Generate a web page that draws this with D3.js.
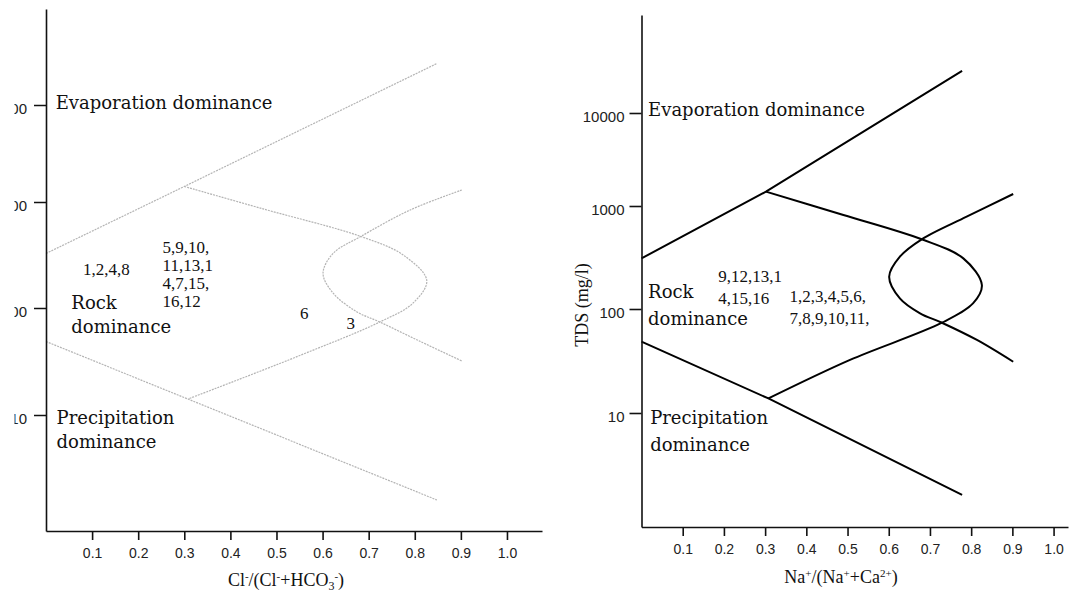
<!DOCTYPE html>
<html>
<head>
<meta charset="utf-8">
<script src="https://cdn.jsdelivr.net/npm/d3@7"></script>
<style>
  body { margin: 0; background: #fff; }
  svg { display: block; }
  .x-axis .tick text { font-family: "Liberation Sans", sans-serif; font-size: 14px; fill: #222; }
  .y-axis .tick text { font-family: "Liberation Sans", sans-serif; font-size: 15px; fill: #222; }
  .zone { font-family: "DejaVu Serif", serif; font-size: 18px; fill: #111; }
  .nums { font-family: "Liberation Serif", serif; font-size: 17px; fill: #111; }
  .title { font-family: "Liberation Serif", serif; font-size: 18px; fill: #111; }
</style>
</head>
<body>
<script>
// tick values shared by both panels
var xTicks = [0.1, 0.2, 0.3, 0.4, 0.5, 0.6, 0.7, 0.8, 0.9, 1.0];
var yTicks = [10, 100, 1000, 10000];

// left panel (Cl/(Cl+HCO3)) boundary lines, [ratio, TDS]
var leftEvapLine = [[0, 327], [0.300, 1445], [0.848, 26700]];
var leftPrecLine = [[0, 48.6], [0.308, 14.1], [0.848, 1.6]];
var leftOuterCurve = [[0.300, 1445], [0.471, 861], [0.683, 473], [0.775, 316], [0.826, 182],
                      [0.796, 111], [0.724, 74], [0.543, 34.9], [0.308, 14.1]];
var leftInnerCurve = [[0.902, 1330], [0.789, 837], [0.683, 473], [0.623, 328], [0.601, 212],
                      [0.623, 138], [0.674, 92.3], [0.724, 74], [0.811, 48.9], [0.902, 32]];

// right panel (Na/(Na+Ca)) boundary lines
var rightEvapLine = [[0, 310], [0.302, 1426], [0.778, 28300]];
var rightPrecLine = [[0, 48.5], [0.308, 13.8], [0.778, 1.63]];
var rightOuterCurve = [[0.302, 1426], [0.490, 818], [0.680, 475], [0.781, 310], [0.826, 171],
                       [0.805, 114], [0.729, 73.8], [0.506, 32.4], [0.308, 13.8]];
var rightInnerCurve = [[0.902, 1346], [0.789, 787], [0.680, 475], [0.627, 322], [0.601, 206],
                       [0.627, 127], [0.676, 91], [0.729, 73.8], [0.814, 50.4], [0.902, 31.1]];

// text annotations [x, TDS, lines]
var leftZones = [
  [0.021, 9200, ["Evaporation dominance"]],
  [0.055, 98, ["Rock", "dominance"]],
  [0.023, 8.24, ["Precipitation", "dominance"]]
];
var leftSamples = [
  [0.080, 207, ["1,2,4,8"]],
  [0.253, 332, ["5,9,10,", "11,13,1", "4,7,15,", "16,12"]],
  [0.551, 78.9, ["6"]],
  [0.652, 63.7, ["3"]]
];
var rightZones = [
  [0.016, 9290, ["Evaporation dominance"]],
  [0.016, 128, ["Rock", "dominance"]],
  [0.021, 7.84, ["Precipitation", "dominance"]]
];
var rightSamples = [
  [0.186, 183, ["9,12,13,1", "4,15,16"]],
  [0.359, 117, ["1,2,3,4,5,6,", "7,8,9,10,11,"]]
];

var svg = d3.select("body").append("svg")
    .attr("width", 1073)
    .attr("height", 594);

// the left figure is cropped just left of its tick labels
svg.append("clipPath").attr("id", "crop")
  .append("rect").attr("x", 14.5).attr("y", 0).attr("width", 1060).attr("height", 594);

// scanned figure: the decades are not evenly spaced, so use piecewise log scales
var xLeft = d3.scaleLinear().domain([0, 1.076]).range([46, 542]);
var yLeft = d3.scaleLog()
    .domain([0.82, 10, 100, 1000, 10000, 97000])
    .range([531, 415, 308, 202, 105, 9]);

var xRight = d3.scaleLinear().domain([0, 1.035]).range([641.5, 1068]);
var yRight = d3.scaleLog()
    .domain([0.8, 10, 100, 1000, 10000, 113000])
    .range([527, 413, 309, 206, 113, 15]);

function drawPanel(x, y, opts) {
  var g = svg.append("g");

  var line = d3.line()
      .x(function(d) { return x(d[0]); })
      .y(function(d) { return y(d[1]); });
  var curve = d3.line()
      .curve(d3.curveCatmullRom.alpha(0.5))
      .x(function(d) { return x(d[0]); })
      .y(function(d) { return y(d[1]); });

  // boundary lines
  [opts.evap, opts.prec].forEach(function(d) {
    g.append("path").datum(d)
        .attr("d", line)
        .attr("fill", "none")
        .attr("stroke", opts.color)
        .attr("stroke-width", opts.width)
        .attr("stroke-dasharray", opts.dash);
  });
  [opts.outer, opts.inner].forEach(function(d) {
    g.append("path").datum(d)
        .attr("d", curve)
        .attr("fill", "none")
        .attr("stroke", opts.color)
        .attr("stroke-width", opts.width)
        .attr("stroke-dasharray", opts.dash);
  });

  // axes
  var xAxis = g.append("g").attr("class", "x-axis")
      .attr("transform", "translate(0," + y.range()[0] + ")")
      .call(d3.axisBottom(x).tickValues(xTicks).tickSize(9).tickSizeOuter(0)
        .tickFormat(d3.format(".1f")).tickPadding(8));
  var yWrap = g.append("g");
  if (opts.cropLabels) yWrap.attr("clip-path", "url(#crop)");
  var yAxis = yWrap.append("g").attr("class", "y-axis")
      .attr("transform", "translate(" + x.range()[0] + ",0)")
      .call(d3.axisLeft(y).tickValues(yTicks).tickSize(12).tickSizeOuter(0)
        .tickFormat(d3.format("d")).tickPadding(opts.cropLabels ? 7 : 5));
  [xAxis, yAxis].forEach(function(a) {
    a.select(".domain").attr("stroke", "#111").attr("stroke-width", 1.6);
    a.selectAll(".tick line").attr("stroke", "#111").attr("stroke-width", 1.6);
  });
  yAxis.selectAll(".tick text").attr("dy", "0.55em");

  // annotations
  function annotate(list, cls, gap) {
    list.forEach(function(a) {
      var t = g.append("text").attr("class", cls)
          .attr("x", x(a[0])).attr("y", y(a[1]));
      a[2].forEach(function(s, i) {
        t.append("tspan").attr("x", x(a[0])).attr("dy", i ? gap : 0).text(s);
      });
    });
  }
  annotate(opts.zones, "zone", opts.zoneGap);
  annotate(opts.samples, "nums", opts.numGap);
  return g;
}

drawPanel(xLeft, yLeft, {
  evap: leftEvapLine, prec: leftPrecLine,
  outer: leftOuterCurve, inner: leftInnerCurve,
  color: "#b4b4b4", width: 1.2, dash: "2,1",
  zones: leftZones, samples: leftSamples, zoneGap: 24, numGap: 18,
  cropLabels: true
});

drawPanel(xRight, yRight, {
  evap: rightEvapLine, prec: rightPrecLine,
  outer: rightOuterCurve, inner: rightInnerCurve,
  color: "#000", width: 2, dash: null,
  zones: rightZones, samples: rightSamples, zoneGap: 27, numGap: 22,
  cropLabels: false
});

// axis titles
var t1 = svg.append("text").attr("class", "title")
    .attr("x", 286).attr("y", 586).attr("text-anchor", "middle");
t1.append("tspan").text("Cl");
t1.append("tspan").attr("dy", -6).attr("font-size", 11).text("-");
t1.append("tspan").attr("dy", 6).text("/(Cl");
t1.append("tspan").attr("dy", -6).attr("font-size", 11).text("-");
t1.append("tspan").attr("dy", 6).text("+HCO");
t1.append("tspan").attr("dy", 4).attr("font-size", 12).text("3");
t1.append("tspan").attr("dy", -10).attr("font-size", 11).text("-");
t1.append("tspan").attr("dy", 6).text(")");

var t2 = svg.append("text").attr("class", "title")
    .attr("x", 841).attr("y", 583).attr("text-anchor", "middle");
t2.append("tspan").text("Na");
t2.append("tspan").attr("dy", -6).attr("font-size", 11).text("+");
t2.append("tspan").attr("dy", 6).text("/(Na");
t2.append("tspan").attr("dy", -6).attr("font-size", 11).text("+");
t2.append("tspan").attr("dy", 6).text("+Ca");
t2.append("tspan").attr("dy", -6).attr("font-size", 11).text("2+");
t2.append("tspan").attr("dy", 6).text(")");

svg.append("text").attr("class", "title")
    .attr("transform", "translate(588,305) rotate(-90)")
    .attr("text-anchor", "middle")
    .text("TDS (mg/l)");
</script>
</body>
</html>
